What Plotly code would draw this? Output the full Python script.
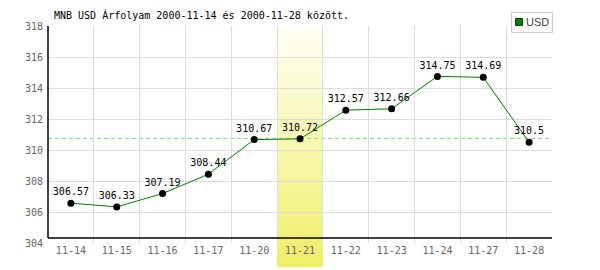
import plotly.graph_objects as go

dates = ["11-14", "11-15", "11-16", "11-17", "11-20", "11-21",
         "11-22", "11-23", "11-24", "11-27", "11-28"]
usd = [306.57, 306.33, 307.19, 308.44, 310.67, 310.72,
       312.57, 312.66, 314.75, 314.69, 310.5]
ref_level = 310.75
highlight = "11-21"
title = "MNB USD Árfolyam 2000-11-14 és 2000-11-28 között."
y_min, y_max, y_step = 304, 318, 2

W, H = 600, 270
L, R, T, B = 48, 48, 26, 27
pw, ph = W - L - R, H - T - B


def px_x(px):
    return (px - L) / pw


def px_y(py):
    return (H - B - py) / ph


MONO = "DejaVu Sans Mono, monospace"

fig = go.Figure()
fig.add_trace(go.Scatter(
    x=dates, y=usd, mode="lines+markers+text",
    text=[f"{v:g}" for v in usd], textposition="top center",
    textfont=dict(family=MONO, size=10, color="#000"),
    line=dict(color="#008000", width=1),
    marker=dict(color="#000", size=7),
    showlegend=False, cliponaxis=False,
))

shapes = []
hi = dates.index(highlight)
top_px, bot_px = 27, 267
n = 60
c0 = (255, 255, 246)
c1 = (240, 238, 104)
for i in range(n):
    f = (i + 0.5) / n
    col = tuple(round(c0[k] + (c1[k] - c0[k]) * f) for k in range(3))
    y0p = top_px + (bot_px - top_px) * i / n
    y1p = top_px + (bot_px - top_px) * (i + 1) / n
    shapes.append(dict(type="rect", xref="x", yref="paper",
                       x0=hi - 0.5, x1=hi + 0.5,
                       y0=px_y(y1p) - 0.001, y1=px_y(y0p) + 0.001,
                       fillcolor=f"rgb{col}", line=dict(width=0),
                       layer="between"))
# reference dashed line
shapes.append(dict(type="line", xref="paper", yref="y", x0=0, x1=1,
                   y0=ref_level, y1=ref_level,
                   line=dict(color="#88d088", width=1, dash="4px,3px"),
                   layer="between"))
# axis lines
axis_y = px_y(238)
shapes.append(dict(type="line", xref="paper", yref="paper", x0=0, x1=1,
                   y0=axis_y, y1=axis_y, line=dict(color="#000", width=1.5),
                   layer="above"))
shapes.append(dict(type="line", xref="paper", yref="paper", x0=0, x1=0,
                   y0=axis_y, y1=1, line=dict(color="#000", width=1.5),
                   layer="above"))
# legend box
shapes.append(dict(type="rect", xref="paper", yref="paper",
                   x0=px_x(511.5), x1=px_x(552.5), y0=px_y(32.5), y1=px_y(12.5),
                   fillcolor="#fff", line=dict(color="#ccc", width=1),
                   layer="above"))
shapes.append(dict(type="rect", xref="paper", yref="paper",
                   x0=px_x(515.5), x1=px_x(522.5), y0=px_y(25.5), y1=px_y(18.5),
                   fillcolor="#008000", line=dict(color="#004000", width=1),
                   layer="above"))

annotations = [
    dict(text=title, xref="paper", yref="paper", x=px_x(52), y=px_y(15),
         xanchor="left", yanchor="middle", showarrow=False,
         font=dict(family=MONO, size=10, color="#000")),
    dict(text="USD", xref="paper", yref="paper", x=px_x(524), y=px_y(22),
         xanchor="left", yanchor="middle", showarrow=False,
         font=dict(family="Liberation Sans Narrow, Arial Narrow, sans-serif",
                   size=11, color="#444")),
]

fig.update_layout(
    width=W, height=H, margin=dict(l=L, r=R, t=T, b=B, pad=0),
    paper_bgcolor="#fff", plot_bgcolor="#fff",
    shapes=shapes, annotations=annotations, showlegend=False,
    xaxis=dict(type="category", categoryorder="array", categoryarray=dates,
               range=[-0.5, len(dates) - 0.5], tickson="boundaries",
               showgrid=True, gridcolor="#ddd", gridwidth=1, ticks="",
               showline=False, zeroline=False,
               tickfont=dict(family=MONO, size=10, color="#666"),
               fixedrange=True),
    yaxis=dict(range=[y_min, y_max], dtick=y_step, tick0=y_min,
               showgrid=True, gridcolor="#ddd", gridwidth=1, ticks="",
               showline=False, zeroline=False,
               tickfont=dict(family=MONO, size=10, color="#666"),
               ticklabelstandoff=4, fixedrange=True),
)

fig.write_html("out.html", config={"displayModeBar": False})
